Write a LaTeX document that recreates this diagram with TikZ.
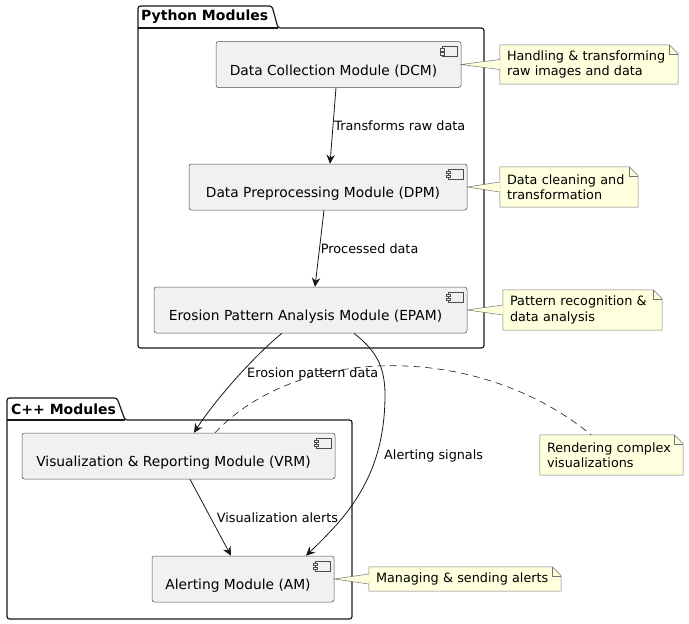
\documentclass[tikz,border=0pt]{standalone}
\usepackage{fontspec}
\setmainfont{DejaVu Sans}
\usetikzlibrary{calc,positioning,arrows.meta}

\definecolor{compfill}{HTML}{F1F1F1}
\definecolor{notefill}{HTML}{FEFFDD}
\definecolor{lineclr}{HTML}{181818}

\newcommand{\compicon}[1]{%
  \draw[iconline] ($(#1.north east)+(-19,5)$) rectangle ($(#1.north east)+(-4,15)$);
  \draw[iconline] ($(#1.north east)+(-21,7)$) rectangle ($(#1.north east)+(-17,9.5)$);
  \draw[iconline] ($(#1.north east)+(-21,11)$) rectangle ($(#1.north east)+(-17,13.5)$);
}
\newcommand{\notefold}[1]{%
  \fill[white] ([xshift=-9pt]#1.north east) -- (#1.north east) -- ([yshift=-9pt]#1.north east) -- cycle;
  \draw[noteline] (#1.south west) -- (#1.north west) -- ([xshift=-9pt]#1.north east) -- ([yshift=-9pt]#1.north east) -- (#1.south east) -- cycle;
  \draw[noteline] ([xshift=-9pt]#1.north east) -- ([xshift=-9pt,yshift=-9pt]#1.north east) -- ([yshift=-9pt]#1.north east);
}

\begin{document}
\begin{tikzpicture}[x=1pt,y=-1pt,>={Stealth[length=9pt,width=8.5pt,inset=3pt]},
	comp/.style={rectangle,rounded corners=2.5pt,draw=black!70,fill=compfill,line width=0.5pt,
		minimum height=46pt,inner sep=0pt,text height=24pt,text depth=3pt,
		font=\fontsize{13.8}{16}\selectfont,execute at end node={\hspace*{10pt}}},
	iconline/.style={draw=black!70,fill=compfill,line width=0.5pt},
	note/.style={rectangle,fill=notefill,inner xsep=7pt,inner ysep=0pt,align=left,
		font=\fontsize{12.8}{15.5}\selectfont},
	noteline/.style={draw=black!55,line width=0.5pt},
	pkgline/.style={draw=lineclr,line width=1.2pt,rounded corners=2.5pt},
	pkgtitle/.style={anchor=west,inner sep=1pt,font=\fontsize{14}{16}\selectfont\bfseries},
	lbl/.style={inner sep=1pt,font=\fontsize{12.8}{15}\selectfont},
	arr/.style={->,draw=lineclr,line width=0.8pt}
	]

	\useasboundingbox (0,0) rectangle (689,624);

	% packages
	\draw[pkgline] (138,348) -- (138,6) -- (272,6) -- (278,28) -- (484,28) -- (484,348) -- cycle;
	\draw[pkgline] (138,28) -- (278,28);
	\node[pkgtitle] (pytitle) at (140,17) {Python Modules};

	\draw[pkgline] (7,619) -- (7,398) -- (117,398) -- (125,420) -- (352,420) -- (352,619) -- cycle;
	\draw[pkgline] (7,420) -- (125,420);
	\node[pkgtitle] (cpptitle) at (10,409) {C++ Modules};

	% components
	\node[comp,minimum width=245pt] (dcm) at (338.5,64.5) {Data Collection Module (DCM)};
	\node[comp,minimum width=278pt] (dpm) at (328,187) {Data Preprocessing Module (DPM)};
	\node[comp,minimum width=313pt] (epam) at (310.5,310) {Erosion Pattern Analysis Module (EPAM)};
	\node[comp,minimum width=313pt] (vrm) at (178.5,456) {Visualization \& Reporting Module (VRM)};
	\node[comp,minimum width=182pt] (am) at (243,579) {Alerting Module (AM)};
	\compicon{dcm}
	\compicon{dpm}
	\compicon{epam}
	\compicon{vrm}
	\compicon{am}

	\draw[arr] ([xshift=-2.5pt]dcm.south) --node[midway,right=0pt,lbl]{Transforms raw data} ([xshift=2pt]dpm.north);
	\draw[arr] ([xshift=-4pt]dpm.south) --node[midway,right=0pt,lbl]{Processed data} ([xshift=4.5pt]epam.north);
	\draw[arr] ([xshift=11.5pt]vrm.south) --node[midway,right=5pt,lbl]{Visualization alerts} ([xshift=-12pt]am.north);

	\draw[arr] ([xshift=-28.5pt]epam.south) .. controls (255,355) and (215,400) .. ([xshift=15.5pt]vrm.north);
	\draw[arr] ([xshift=43.5pt]epam.south) .. controls (375,350) and (385,365) .. (385,395)
		.. controls (385,478) and (345,518) .. ([xshift=63pt]am.north);

	% label
	\node[lbl,anchor=west] (lerosion) at (246,374) {Erosion pattern data};
	\node[lbl,anchor=west] (lsignals) at (383,456) {Alerting signals};

	% notes
	\node[note,text width=164pt,minimum height=39pt] (n1) at (589,64.5) {Handling \& transforming\\raw images and data};
	\node[note,text width=124pt,minimum height=40pt] (n2) at (569,187) {Data cleaning and\\transformation};
	\node[note,text width=145pt,minimum height=40pt] (n3) at (582.5,310) {Pattern recognition \&\\data analysis};
	\node[note,text width=129pt,minimum height=40pt] (n4) at (611.5,455) {Rendering complex\\visualizations};
	\node[note,text width=178pt,minimum height=24pt] (n5) at (465,579) {Managing \& sending alerts};
	\notefold{n1}
	\notefold{n2}
	\notefold{n3}
	\notefold{n4}
	\notefold{n5}

	\draw[noteline,fill=notefill] ([yshift=5pt]n1.west) -- (dcm.east) -- ([yshift=-5pt]n1.west);
	\draw[noteline,fill=notefill] ([yshift=5pt]n2.west) -- (dpm.east) -- ([yshift=-5pt]n2.west);
	\draw[noteline,fill=notefill] ([yshift=5pt]n3.west) -- (epam.east) -- ([yshift=-5pt]n3.west);
	\draw[noteline,fill=notefill] ([yshift=5pt]n5.west) -- (am.east) -- ([yshift=-5pt]n5.west);
	\draw[draw=lineclr,line width=0.6pt,dash pattern=on 7pt off 5pt] ([xshift=36.5pt]vrm.north) .. controls (300,343) and (480,343) .. ([xshift=-20.5pt]n4.north);

\end{tikzpicture}
\end{document}
